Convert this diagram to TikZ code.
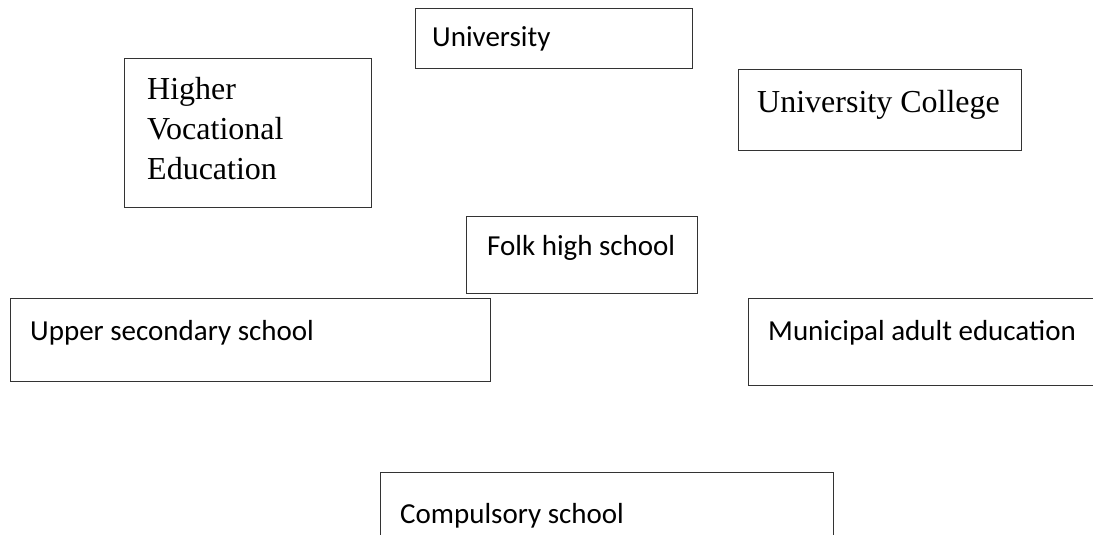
\documentclass[tikz,border=0pt]{standalone}
\usepackage{fontspec}
\setmainfont{Liberation Serif}
\newfontfamily\calfont{Carlito}
\begin{document}
\begin{tikzpicture}[x=1pt,y=-1pt,
  boxstyle/.style={draw=black!80,line width=1.3pt,rectangle,inner sep=0pt},
  sanslabel/.style={font=\calfont\fontsize{29}{35}\selectfont,inner sep=0pt,anchor=base west},
  seriflabel/.style={font=\fontsize{32}{40}\selectfont,inner sep=0pt,anchor=base west,align=left}]
\useasboundingbox (0,0) rectangle (1093,535);
\clip (0,0) rectangle (1093,535);
% boxes
\node[boxstyle,minimum width=277pt,minimum height=60pt,anchor=north west] (uni) at (415,8) {};
\node[boxstyle,minimum width=247pt,minimum height=149pt,anchor=north west] (hve) at (124,58) {};
\node[boxstyle,minimum width=283pt,minimum height=81pt,anchor=north west] (uc) at (738,69) {};
\node[boxstyle,minimum width=231pt,minimum height=77pt,anchor=north west] (folk) at (466,216) {};
\node[boxstyle,minimum width=480pt,minimum height=83pt,anchor=north west] (upper) at (10,298) {};
\node[boxstyle,minimum width=400pt,minimum height=87pt,anchor=north west] (muni) at (748,298) {};
\node[boxstyle,minimum width=453pt,minimum height=100pt,anchor=north west] (comp) at (380,472) {};
% labels
\node[sanslabel] (unit) at ([shift={(17,39)}]uni.north west) {University};
\node[seriflabel,anchor=north west] (hvet) at ([shift={(23,19)}]hve.north west) {Higher\\Vocational\\Education};
\node[seriflabel] (uct) at ([shift={(19,43)}]uc.north west) {University College};
\node[sanslabel] (folkt) at ([shift={(21,39)}]folk.north west) {Folk high school};
\node[sanslabel] (uppert) at ([shift={(20,42)}]upper.north west) {Upper secondary school};
\node[sanslabel] (munit) at ([shift={(20,42)}]muni.north west) {Municipal adult education};
\node[sanslabel] (compt) at ([shift={(20,51)}]comp.north west) {Compulsory school};
\end{tikzpicture}
\end{document}
